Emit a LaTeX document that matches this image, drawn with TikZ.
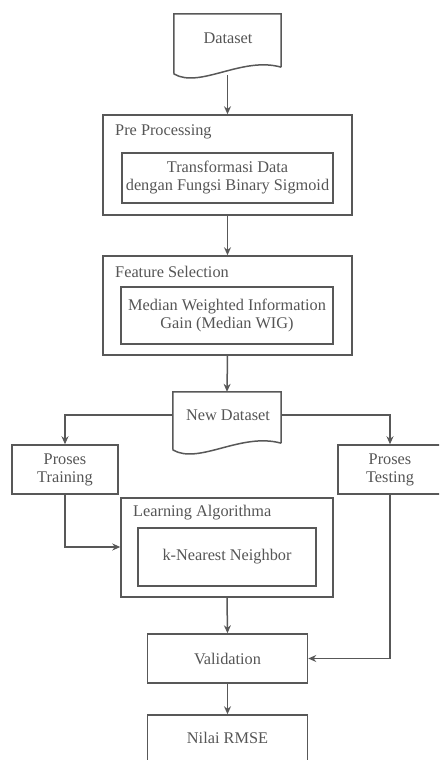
\documentclass[tikz,border=0pt]{standalone}
\usepackage{fontspec}
\setmainfont{Liberation Serif}
\usetikzlibrary{arrows.meta}
\definecolor{ln}{HTML}{585858}
\definecolor{tx}{HTML}{555555}
\tikzset{
  box/.style={draw=ln, line width=1.5pt, rectangle, inner sep=0pt, text=tx, font=\fontsize{16.3}{18}\selectfont, align=center},
  lbl/.style={text=tx, font=\fontsize{16.3}{18}\selectfont, inner sep=0pt, anchor=west},
  doc/.style={rectangle, inner sep=0pt, text=tx, font=\fontsize{16.3}{18}\selectfont},
  docline/.style={draw=ln, line width=1.5pt, line join=miter},
  conn/.style={draw=ln, line width=1.5pt, -{Stealth[length=8pt,width=7pt]}}
}
\begin{document}
\begin{tikzpicture}[x=1pt,y=-1pt]
\useasboundingbox (0,0) rectangle (439,760);
\begin{scope}
\clip (0,0) rectangle (439,760);
% Dataset document
\node[doc, minimum width=107pt, minimum height=53pt] (ds) at (227.5,40.5) {};
\node[doc] (dst) at (228,38) {Dataset};
\draw[docline] (ds.south east) -- (ds.north east) -- (ds.north west) -- (174,74)
  .. controls (200,89) and (242,56) .. (ds.south east);
% Pre processing
\node[box, minimum width=249pt, minimum height=100pt] (pp) at (227.5,165) {};
\node[lbl] (ppl) at (115,132) {Pre Processing};
\node[box, minimum width=211pt, minimum height=50pt] (ppi) at (227.5,178) {Transformasi Data\\dengan Fungsi Binary Sigmoid};
% Feature selection
\node[box, minimum width=249pt, minimum height=99pt] (fs) at (227.5,305.5) {};
\node[lbl] (fsl) at (115,272) {Feature Selection};
\node[box, minimum width=212pt, minimum height=57pt] (fsi) at (227,315.5) {Median Weighted Information\\Gain (Median WIG)};
% New Dataset
\node[doc, minimum width=108pt, minimum height=51pt] (nd) at (227,417.5) {};
\node[doc] (ndt) at (228,415) {New Dataset};
\draw[docline] (nd.south east) -- (nd.north east) -- (nd.north west) -- (173,450)
  .. controls (199,465) and (241,432) .. (nd.south east);
% Proses training / testing
\node[box, minimum width=106pt, minimum height=49pt] (pt) at (65,469.5) {Proses\\Training};
\node[box, minimum width=104pt, minimum height=49pt] (ps) at (390,469.5) {Proses\\Testing};
% Learning algorithm
\node[box, minimum width=212pt, minimum height=99pt] (la) at (227,547.5) {};
\node[lbl] (lal) at (133,513) {Learning Algorithma};
\node[box, minimum width=178pt, minimum height=58pt] (kn) at (227,557) {k-Nearest Neighbor};
% Validation
\node[box, minimum width=160pt, minimum height=49pt] (va) at (227.5,658.5) {Validation};
% Nilai RMSE
\node[box, minimum width=160pt, minimum height=48pt] (nr) at (227.5,739) {};
\node[doc] (nrt) at (227.5,738) {Nilai RMSE};
% connectors
\draw[conn] (ds.south |- 0,75) -- (pp.north);
\draw[conn] (pp.south) -- (fs.north);
\draw[conn] (fs.south) -- (nd.north);
\draw[conn] (nd.west |- 0,415) -| (pt.north);
\draw[conn] (nd.east |- 0,415) -| (ps.north);
\draw[conn] (pt.south) |- (la.west |- 0,547);
\draw[conn] (la.south) -- (va.north);
\draw[conn] (ps.south) |- (va.east);
\draw[conn] (va.south) -- (nr.north);
\end{scope}
\end{tikzpicture}
\end{document}
